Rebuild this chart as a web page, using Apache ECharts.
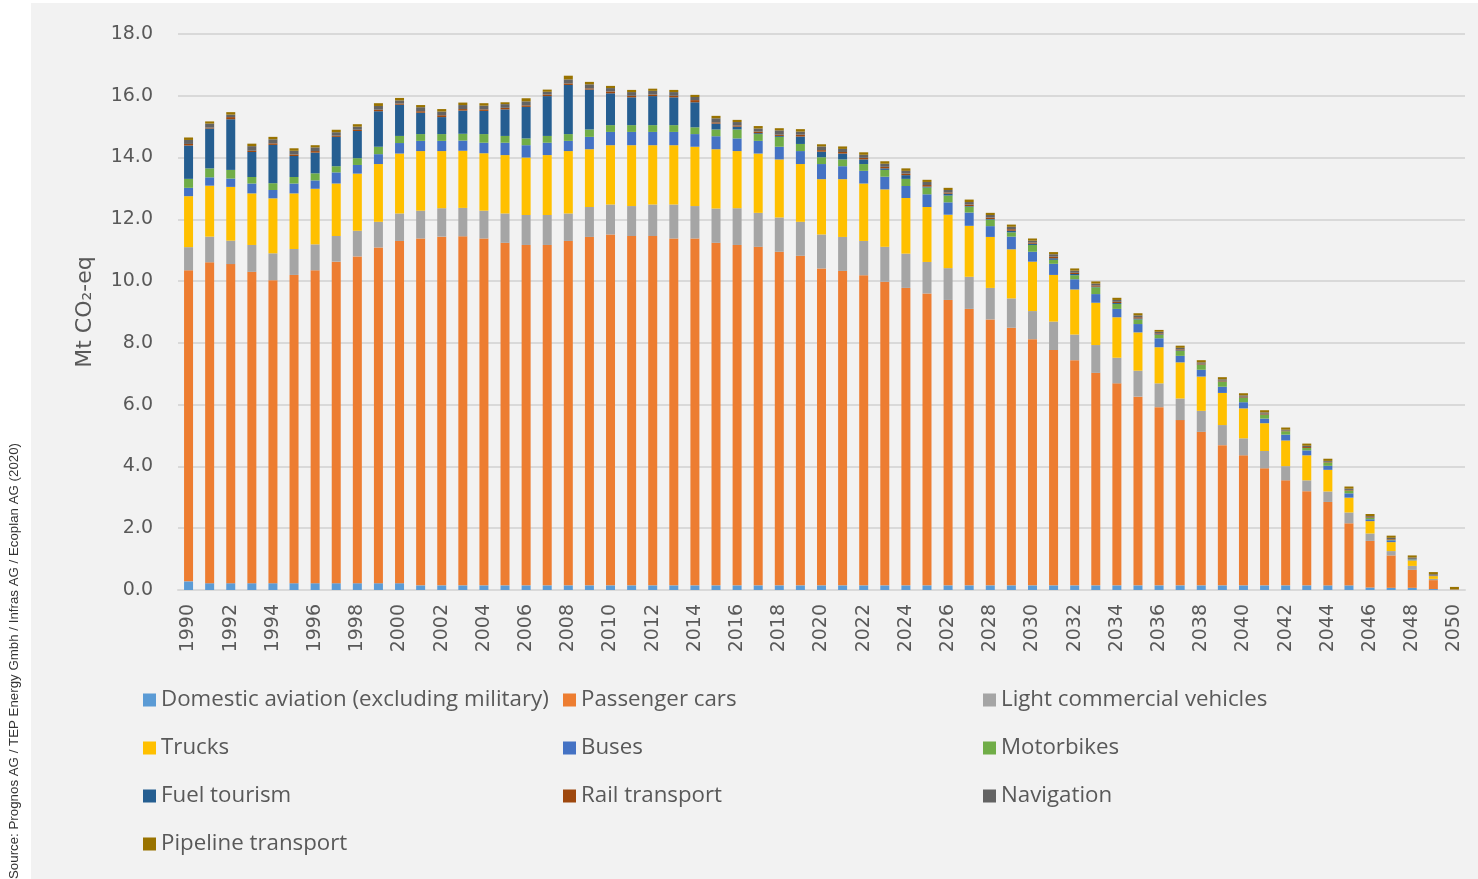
<!DOCTYPE html>
<html>
<head>
<meta charset="utf-8">
<script src="https://cdn.jsdelivr.net/npm/echarts@6/dist/echarts.min.js"></script>
<style>
  html, body { margin: 0; padding: 0; background: #fff; }
  #chart { width: 1478px; height: 879px; }
</style>
</head>
<body>
<div id="chart"></div>
<script>
  // Jahre 1990 - 2050
  var years = []
  for (var y = 1990; y <= 2050; y++) years.push(String(y))

  var yTicks = [0, 2, 4, 6, 8, 10, 12, 14, 16, 18]

  var aviation = [
    0.28, 0.22, 0.22, 0.22, 0.22, 0.22, 0.22, 0.22, 0.22, 0.22,
    0.22, 0.15, 0.15, 0.15, 0.15, 0.15, 0.15, 0.15, 0.15, 0.15,
    0.15, 0.15, 0.15, 0.15, 0.15, 0.15, 0.15, 0.15, 0.15, 0.15,
    0.15, 0.15, 0.15, 0.15, 0.15, 0.15, 0.15, 0.15, 0.15, 0.15,
    0.15, 0.15, 0.15, 0.15, 0.15, 0.15, 0.15, 0.15, 0.15, 0.15,
    0.15, 0.15, 0.15, 0.15, 0.15, 0.15, 0.08, 0.07, 0.07, 0.03, 0.01
  ]
  var cars = [
    10.07, 10.39, 10.33, 10.08, 9.81, 9.98, 10.13, 10.41, 10.58, 10.87,
    11.08, 11.23, 11.29, 11.30, 11.23, 11.09, 11.02, 11.02, 11.15, 11.28,
    11.36, 11.31, 11.31, 11.23, 11.23, 11.09, 11.02, 10.96, 10.80, 10.67,
    10.26, 10.18, 10.04, 9.83, 9.63, 9.45, 9.24, 8.95, 8.61, 8.34,
    7.97, 7.62, 7.29, 6.88, 6.54, 6.11, 5.77, 5.35, 4.97, 4.54,
    4.21, 3.79, 3.40, 3.05, 2.70, 2.01, 1.51, 1.05, 0.58, 0.29, 0.01
  ]
  var lcv = [
    0.75, 0.83, 0.76, 0.87, 0.87, 0.84, 0.84, 0.83, 0.83, 0.83,
    0.89, 0.90, 0.92, 0.92, 0.90, 0.95, 0.97, 0.97, 0.89, 0.97,
    0.97, 0.97, 1.02, 1.10, 1.05, 1.11, 1.19, 1.10, 1.11, 1.10,
    1.10, 1.10, 1.11, 1.13, 1.11, 1.02, 1.03, 1.04, 1.02, 0.95,
    0.91, 0.92, 0.83, 0.90, 0.83, 0.84, 0.77, 0.70, 0.68, 0.65,
    0.55, 0.56, 0.46, 0.35, 0.34, 0.35, 0.24, 0.14, 0.13, 0.04, 0
  ]
  var trucks = [
    1.65, 1.65, 1.74, 1.67, 1.78, 1.80, 1.80, 1.70, 1.85, 1.87,
    1.94, 1.93, 1.85, 1.85, 1.86, 1.89, 1.86, 1.94, 2.02, 1.87,
    1.92, 1.97, 1.92, 1.92, 1.92, 1.92, 1.85, 1.92, 1.88, 1.87,
    1.79, 1.87, 1.86, 1.86, 1.80, 1.78, 1.73, 1.65, 1.65, 1.59,
    1.60, 1.51, 1.46, 1.37, 1.31, 1.24, 1.17, 1.17, 1.11, 1.04,
    0.97, 0.90, 0.83, 0.81, 0.70, 0.48, 0.40, 0.29, 0.18, 0.09, 0
  ]
  var buses = [
    0.27, 0.27, 0.27, 0.32, 0.27, 0.32, 0.27, 0.36, 0.28, 0.32,
    0.34, 0.33, 0.33, 0.33, 0.34, 0.40, 0.40, 0.40, 0.33, 0.40,
    0.43, 0.43, 0.43, 0.43, 0.41, 0.42, 0.41, 0.41, 0.41, 0.42,
    0.49, 0.42, 0.41, 0.41, 0.39, 0.41, 0.40, 0.43, 0.35, 0.41,
    0.32, 0.36, 0.33, 0.28, 0.27, 0.27, 0.29, 0.21, 0.22, 0.20,
    0.20, 0.15, 0.19, 0.16, 0.13, 0.14, 0.06, 0.06, 0.03, 0.02, 0
  ]
  var motorbikes = [
    0.29, 0.29, 0.28, 0.21, 0.22, 0.21, 0.23, 0.20, 0.22, 0.24,
    0.23, 0.22, 0.22, 0.22, 0.28, 0.22, 0.22, 0.22, 0.22, 0.24,
    0.22, 0.22, 0.22, 0.22, 0.22, 0.22, 0.29, 0.22, 0.32, 0.23,
    0.22, 0.22, 0.22, 0.22, 0.23, 0.22, 0.22, 0.19, 0.21, 0.14,
    0.22, 0.13, 0.13, 0.22, 0.16, 0.15, 0.11, 0.16, 0.16, 0.16,
    0.14, 0.12, 0.11, 0.08, 0.11, 0.09, 0.05, 0.02, 0.01, 0, 0
  ]
  var fuelTourism = [
    1.08, 1.29, 1.64, 0.81, 1.24, 0.68, 0.67, 0.95, 0.88, 1.15,
    1.01, 0.69, 0.55, 0.75, 0.75, 0.86, 1.02, 1.29, 1.59, 1.29,
    1.03, 0.90, 0.94, 0.90, 0.81, 0.19, 0.09, 0.03, 0.03, 0.24,
    0.18, 0.19, 0.15, 0.05, 0.12, 0.03, 0.06, 0.02, 0.02, 0.05,
    0.04, 0.05, 0.04, 0.02, 0.03, 0.03, 0.02, 0.02, 0.01, 0.01,
    0.01, 0.01, 0, 0, 0, 0, 0, 0, 0, 0, 0
  ]
  var rail = [
    0.05, 0.03, 0.07, 0.04, 0.05, 0.05, 0.05, 0.04, 0.04, 0.05,
    0.04, 0.05, 0.06, 0.05, 0.05, 0.05, 0.05, 0.05, 0.05, 0.04,
    0.06, 0.05, 0.05, 0.05, 0.07, 0.04, 0.04, 0.05, 0.04, 0.06,
    0.05, 0.05, 0.05, 0.05, 0.05, 0.05, 0.04, 0.05, 0.05, 0.05,
    0.04, 0.05, 0.04, 0.04, 0.04, 0.04, 0.03, 0.03, 0.03, 0.03,
    0.03, 0.03, 0.02, 0.03, 0.02, 0.02, 0.02, 0.02, 0.01, 0.01, 0
  ]
  var navigation = [
    0.13, 0.13, 0.08, 0.15, 0.13, 0.12, 0.12, 0.11, 0.10, 0.12,
    0.10, 0.13, 0.12, 0.13, 0.12, 0.12, 0.13, 0.09, 0.13, 0.13,
    0.11, 0.12, 0.12, 0.12, 0.10, 0.13, 0.11, 0.10, 0.14, 0.10,
    0.12, 0.10, 0.10, 0.10, 0.09, 0.10, 0.08, 0.08, 0.08, 0.08,
    0.06, 0.08, 0.07, 0.06, 0.06, 0.06, 0.05, 0.05, 0.04, 0.04,
    0.04, 0.04, 0.03, 0.04, 0.03, 0.04, 0.03, 0.04, 0.04, 0.03, 0
  ]
  var pipeline = [
    0.08, 0.07, 0.08, 0.08, 0.08, 0.08, 0.07, 0.08, 0.08, 0.09,
    0.08, 0.07, 0.08, 0.08, 0.08, 0.06, 0.10, 0.07, 0.12, 0.08,
    0.07, 0.07, 0.07, 0.07, 0.07, 0.08, 0.07, 0.08, 0.07, 0.08,
    0.07, 0.08, 0.08, 0.08, 0.08, 0.07, 0.07, 0.08, 0.07, 0.07,
    0.07, 0.07, 0.07, 0.07, 0.07, 0.07, 0.06, 0.07, 0.07, 0.07,
    0.07, 0.07, 0.07, 0.07, 0.07, 0.07, 0.07, 0.07, 0.07, 0.07, 0.08
  ]

  var seriesDefs = [
    { name: 'Domestic aviation (excluding military)', data: aviation, color: '#5B9BD5' },
    { name: 'Passenger cars', data: cars, color: '#ED7D31' },
    { name: 'Light commercial vehicles', data: lcv, color: '#A5A5A5' },
    { name: 'Trucks', data: trucks, color: '#FFC000' },
    { name: 'Buses', data: buses, color: '#4472C4' },
    { name: 'Motorbikes', data: motorbikes, color: '#70AD47' },
    { name: 'Fuel tourism', data: fuelTourism, color: '#255E91' },
    { name: 'Rail transport', data: rail, color: '#9E480E' },
    { name: 'Navigation', data: navigation, color: '#636363' },
    { name: 'Pipeline transport', data: pipeline, color: '#997300' }
  ]

  var textColor = '#595959'
  var font = 'DejaVu Sans'

  // Legende: 3 Spalten, 4 Zeilen
  var legendCols = [143, 563, 983]
  var legendRows = [688, 736, 784, 832]
  var legends = seriesDefs.map(function (s, i) {
    return {
      data: [s.name],
      left: legendCols[i % 3],
      top: legendRows[Math.floor(i / 3)],
      padding: 0,
      itemWidth: 13,
      itemHeight: 13,
      icon: 'rect',
      selectedMode: false,
      textStyle: { color: textColor, fontSize: 22.3, fontFamily: 'Open Sans', lineHeight: 24 }
    }
  })

  var series = seriesDefs.map(function (s) {
    return {
      name: s.name,
      type: 'bar',
      stack: 'total',
      barWidth: 9,
      data: s.data,
      itemStyle: { color: s.color }
    }
  })

  var chart = echarts.init(document.getElementById('chart'))
  chart.setOption({
    backgroundColor: '#ffffff',
    animation: false,
    graphic: [
      {
        type: 'rect',
        z: -10,
        shape: { x: 31, y: 3, width: 1447, height: 876 },
        style: { fill: '#F2F2F2' }
      },
      {
        type: 'text',
        x: 14,
        y: 661,
        rotation: Math.PI / 2,
        style: {
          text: 'Source: Prognos AG / TEP Energy Gmbh / Infras AG / Ecoplan AG (2020)',
          fill: '#333333',
          font: '13.3px "Liberation Sans Narrow", "Liberation Sans"',
          align: 'center',
          verticalAlign: 'middle'
        }
      }
    ],
    legend: legends,
    grid: { left: 178, right: 13, top: 34, bottom: 289 },
    xAxis: {
      type: 'category',
      data: years,
      axisLine: { lineStyle: { color: '#D9D9D9', width: 2 } },
      axisTick: { show: false },
      axisLabel: {
        rotate: 90,
        interval: 1,
        margin: 14,
        color: textColor,
        fontSize: 19,
        fontFamily: font
      }
    },
    yAxis: {
      type: 'value',
      min: yTicks[0],
      max: yTicks[yTicks.length - 1],
      interval: 2,
      name: 'Mt CO₂-eq',
      nameLocation: 'middle',
      nameRotate: 90,
      nameGap: 82,
      nameTextStyle: { color: textColor, fontSize: 22, fontFamily: font },
      axisLine: { show: false },
      axisTick: { show: false },
      axisLabel: {
        margin: 25,
        color: textColor,
        fontSize: 19,
        fontFamily: font,
        formatter: function (v) { return v.toFixed(1) }
      },
      splitLine: { lineStyle: { color: '#D9D9D9', width: 2 } }
    },
    series: series
  })
</script>
</body>
</html>
